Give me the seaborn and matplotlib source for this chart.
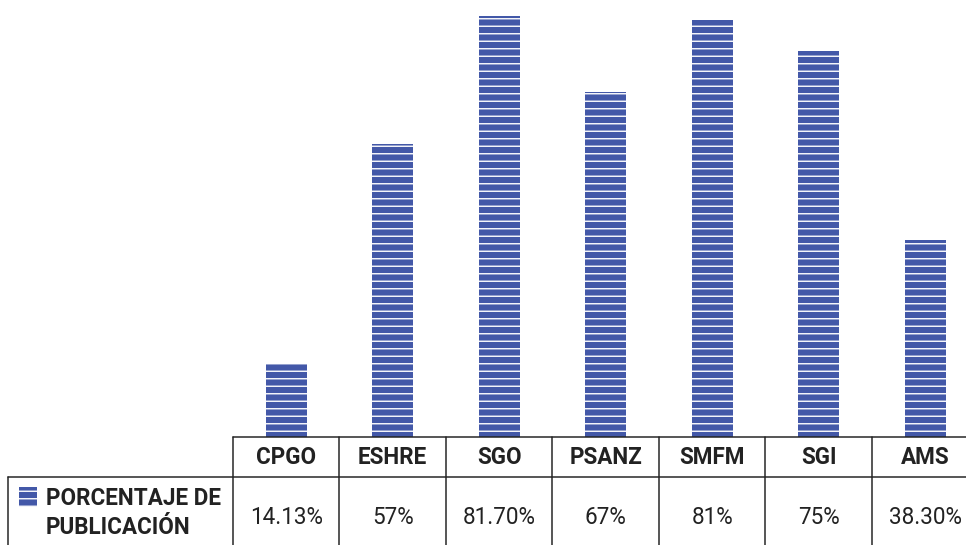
import pandas as pd
import matplotlib
matplotlib.use("Agg")
import matplotlib.pyplot as plt
import matplotlib.transforms as mtransforms
from matplotlib.lines import Line2D
from matplotlib.patches import Rectangle
import seaborn as sns

# data
societies = ["CPGO", "ESHRE", "SGO", "PSANZ", "SMFM", "SGI", "AMS"]
publication_pct = [14.13, 57, 81.70, 67, 81, 75, 38.30]
pct_labels = ["14.13%", "57%", "81.70%", "67%", "81%", "75%", "38.30%"]
row_label = "PORCENTAJE DE\nPUBLICACIÓN"

bar_color = "#4358a8"
line_color = "#222222"
text_color = "#222222"

W, H, DPI = 967, 545, 90
sns.set_theme(style="white")
plt.rcParams["font.family"] = ["Roboto", "DejaVu Sans"]
plt.rcParams["hatch.linewidth"] = 1.1

fig = plt.figure(figsize=(W / DPI, H / DPI), dpi=DPI)
ax = fig.add_axes([233 / W, 1 - 437 / H, 745.5 / W, 437 / H])

df = pd.DataFrame({"society": societies, "pct": publication_pct})
sns.barplot(data=df, x="society", y="pct", color=bar_color, saturation=1,
            width=0.385, hatch="--", edgecolor="white", linewidth=0, ax=ax)
ax.set_xlim(-0.5, len(societies) - 0.5)
ax.set_ylim(0, 84.9)
ax.set_axis_off()

# table below the bars, x from the category axis, y in figure pixels
tr = mtransforms.blended_transform_factory(ax.transData, fig.transFigure)


def fy(px):
    return 1 - px / H


def fx(px):
    return px / W


lw = 1.2
n = len(societies)
fig.add_artist(Line2D([-0.5, n + 0.5], [fy(437), fy(437)], transform=tr,
                      color=line_color, lw=lw))
fig.add_artist(Line2D([fx(8), 1.05], [fy(477), fy(477)], transform=fig.transFigure,
                      color=line_color, lw=lw))
fig.add_artist(Line2D([fx(8), fx(8)], [fy(477), fy(560)], transform=fig.transFigure,
                      color=line_color, lw=lw))
for i in range(n + 1):
    fig.add_artist(Line2D([i - 0.5, i - 0.5], [fy(437), fy(560)], transform=tr,
                          color=line_color, lw=lw))

for i, (name, lab) in enumerate(zip(societies, pct_labels)):
    fig.text(i, fy(458), name, transform=tr, ha="center", va="center",
             fontsize=18, fontweight="bold", color=text_color)
    fig.text(i, fy(517), lab, transform=tr, ha="center", va="center",
             fontsize=18, color=text_color)

fig.text(fx(46), fy(513), row_label, ha="left", va="center", fontsize=18,
         fontweight="bold", color=text_color, linespacing=1.3)
fig.add_artist(Rectangle((fx(19), fy(507)), fx(18), 20 / H, transform=fig.transFigure,
                         facecolor=bar_color, edgecolor="white", linewidth=0,
                         hatch="--"))

fig.savefig("out.png", dpi=DPI)
